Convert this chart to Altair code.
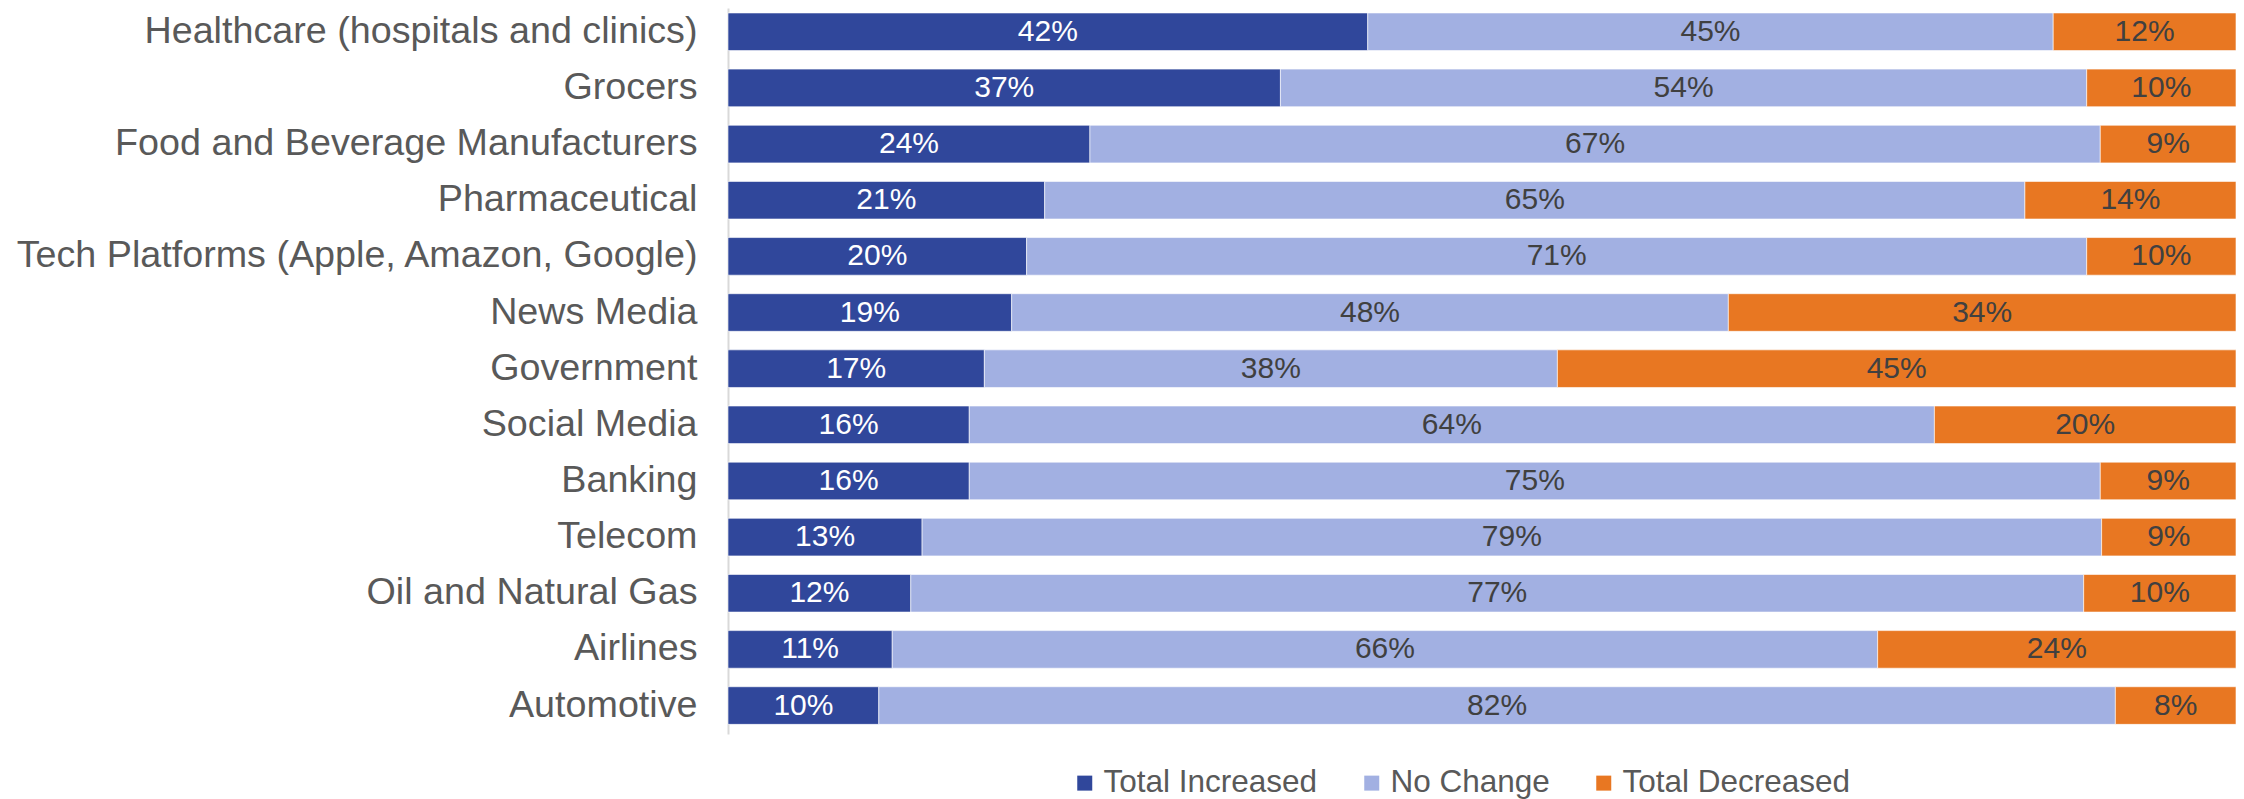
import altair as alt
import pandas as pd

categories = [
    "Healthcare (hospitals and clinics)",
    "Grocers",
    "Food and Beverage Manufacturers",
    "Pharmaceutical",
    "Tech Platforms (Apple, Amazon, Google)",
    "News Media",
    "Government",
    "Social Media",
    "Banking",
    "Telecom",
    "Oil and Natural Gas",
    "Airlines",
    "Automotive",
]
total_increased = [42, 37, 24, 21, 20, 19, 17, 16, 16, 13, 12, 11, 10]
no_change = [45, 54, 67, 65, 71, 48, 38, 64, 75, 79, 77, 66, 82]
total_decreased = [12, 10, 9, 14, 10, 34, 45, 20, 9, 9, 10, 24, 8]

series = ["Total Increased", "No Change", "Total Decreased"]
colors = ["#30479B", "#A2B0E2", "#E87722"]

rows = []
for i, c in enumerate(categories):
    for j, (s, vals) in enumerate(zip(series, [total_increased, no_change, total_decreased])):
        rows.append({"category": c, "series": s, "order": j, "value": vals[i]})
df = pd.DataFrame(rows)

FONT = "Liberation Sans"

base = alt.Chart(df).transform_stack(
    stack="value",
    groupby=["category"],
    as_=["x0", "x1"],
    offset="normalize",
    sort=[alt.SortField("order", order="ascending")],
).transform_calculate(
    mid="(datum.x0 + datum.x1) / 2",
    label="datum.value + '%'",
)

y_enc = alt.Y(
    "category:N",
    sort=categories,
    scale=alt.Scale(paddingInner=0.33, paddingOuter=0.13, align=0.34),
    axis=alt.Axis(
        title=None,
        labelFont=FONT,
        labelFontSize=37.7,
        labelColor="#595959",
        labelPadding=31,
        ticks=False,
        domain=True,
        domainColor="#D9D9D9",
        domainWidth=2,
        labelLimit=0,
    ),
)

bars = base.mark_bar(stroke="white", strokeWidth=1, strokeOpacity=0.6).encode(
    x=alt.X("x0:Q", scale=alt.Scale(domain=[0, 1], nice=False, zero=False), axis=None),
    x2="x1:Q",
    y=y_enc,
    color=alt.Color(
        "series:N",
        scale=alt.Scale(domain=series, range=colors),
        legend=alt.Legend(
            title=None,
            orient="none",
            legendX=341,
            legendY=759,
            direction="horizontal",
            labelFont=FONT,
            labelFontSize=31.5,
            labelColor="#595959",
            labelLimit=0,
            symbolType="square",
            symbolSize=225,
            symbolStrokeWidth=0,
            labelOffset=3,
            columnPadding=38,
        ),
    ),
)

texts = base.mark_text(font=FONT, fontSize=30, baseline="middle", align="center").encode(
    x=alt.X("mid:Q", scale=alt.Scale(domain=[0, 1], nice=False, zero=False), axis=None),
    y=y_enc,
    text="label:N",
    color=alt.condition(
        alt.datum.series == "Total Increased", alt.value("#FFFFFF"), alt.value("#404040")
    ),
)

chart = alt.layer(bars, texts).properties(
    width=1508,
    height=726,
    autosize=alt.AutoSizeParams(type="none"),
    padding={"left": 720, "top": 0, "right": 0, "bottom": 65},
).configure_view(stroke=None)

chart.save("out.html", embed_options={"renderer": "svg", "actions": False})
